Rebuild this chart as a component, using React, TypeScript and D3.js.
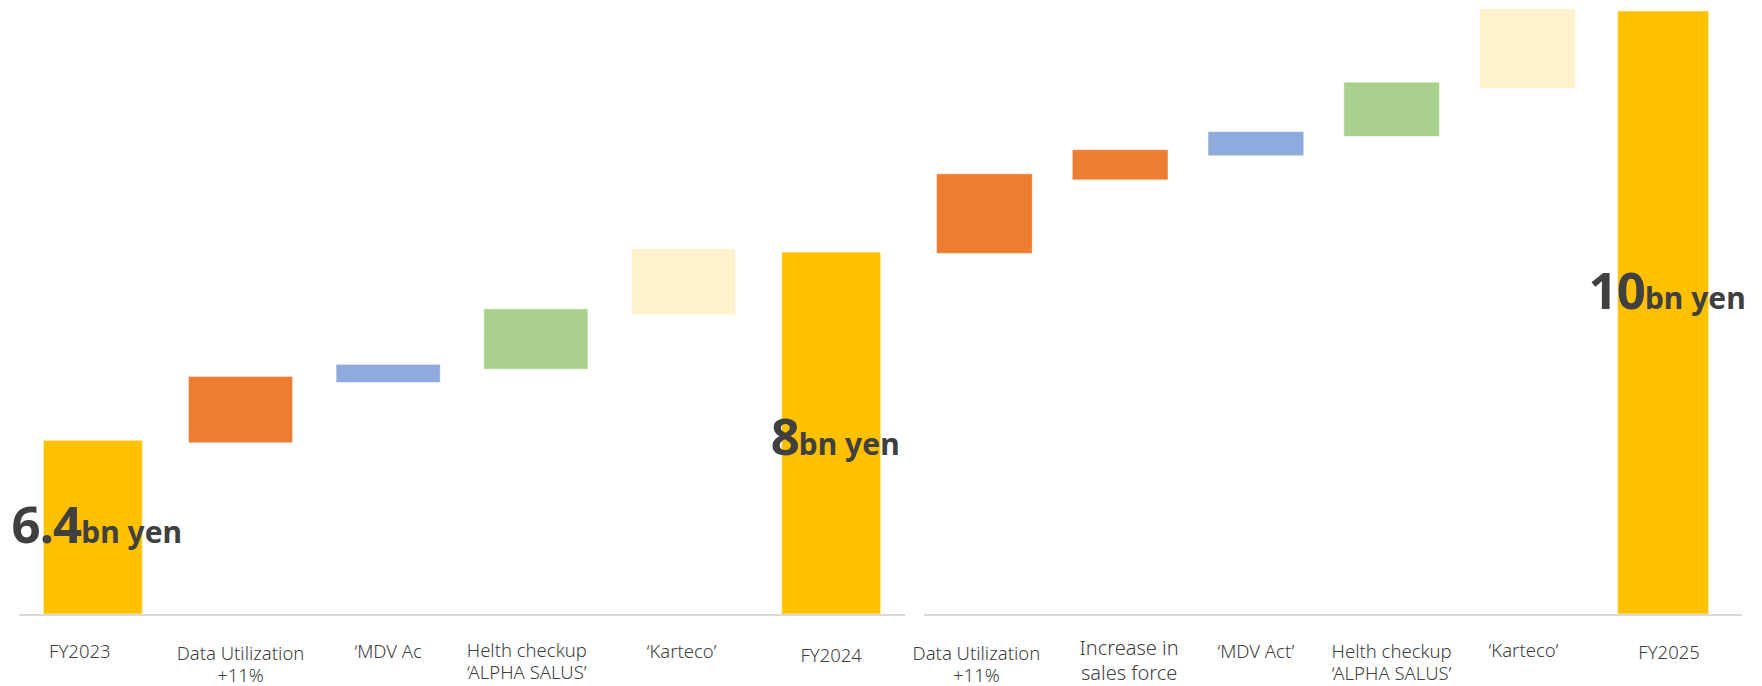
import React from "react";
import * as d3 from "d3";

// ---------- data ----------
const leftCategories = [
  "FY2023",
  "Data Utilization\n+11%",
  "\u2018MDV Ac",
  "Helth checkup\n\u2018ALPHA SALUS\u2019",
  "\u2018Karteco\u2019",
  "FY2024",
];
const leftKinds = ["total", "util", "mdv", "health", "karteco", "total"];
const leftStart = [5, 6.42, 6.92, 7.03, 7.48, 5];
const leftEnd = [6.44, 6.97, 7.07, 7.53, 8.03, 8.0];

const rightCategories = [
  "Data Utilization\n+11%",
  "Increase in\nsales force",
  "\u2018MDV Act\u2019",
  "Helth checkup\n\u2018ALPHA SALUS\u2019",
  "\u2018Karteco\u2019",
  "FY2025",
];
const rightKinds = ["util", "sales", "mdv", "health", "karteco", "total"];
const rightStart = [7.99, 8.6, 8.8, 8.96, 9.36, 5];
const rightEnd = [8.65, 8.85, 9.0, 9.41, 10.02, 10.0];

const totalNumbers = ["6.4", "8", "10"];
const totalUnit = "bn yen";

const yDomain = [5, 10];

// ---------- styles / layout ----------
const W = 1762;
const H = 686;
const colors: Record<string, string> = {
  total: "#FFC000",
  util: "#ED7D31",
  sales: "#ED7D31",
  mdv: "#8FAADC",
  health: "#A9D18E",
  karteco: "#FFF2CC",
};
const leftLabelDx = [-13, 0, 0, -9, -2, 0];
const rightLabelDx = [-8, 9, 0, 0, -4, 6];
const leftLabelBase = [658, 660, 658, 657, 658, 662];
const rightLabelBase = [660, 655, 658, 658, 657, 659];
const totalLabelFrac = [0.59, 0.56, 0.495];

export default function App() {
  const y = d3.scaleLinear().domain(yDomain).range([614, 11]);
  const xL = d3.scaleBand<number>().domain(d3.range(leftCategories.length)).range([19, 905]);
  const xR = d3.scaleBand<number>().domain(d3.range(rightCategories.length)).range([916.5, 1731]);

  const panels = [
    { x: xL, cats: leftCategories, kinds: leftKinds, s: leftStart, e: leftEnd, dx: leftLabelDx, base: leftLabelBase, axis: [19, 905] },
    { x: xR, cats: rightCategories, kinds: rightKinds, s: rightStart, e: rightEnd, dx: rightLabelDx, base: rightLabelBase, axis: [924, 1742] },
  ];

  const totals: { cx: number; top: number; bottom: number }[] = [];

  const marks = panels.map((p, pi) => {
    const step = p.x.bandwidth();
    const bars = p.cats.map((c, i) => {
      const isTotal = p.kinds[i] === "total";
      const w = step * (isTotal ? 0.67 : 0.705);
      const cx = (p.x(i) as number) + step / 2;
      const y0 = y(p.s[i]);
      const y1 = y(p.e[i]);
      if (isTotal) totals.push({ cx, top: y1, bottom: y0 });
      return (
        <rect
          key={`b${pi}-${i}`}
          x={cx - w / 2}
          y={Math.min(y0, y1)}
          width={w}
          height={Math.abs(y0 - y1)}
          fill={colors[p.kinds[i]]}
          stroke="#ffffff"
          strokeOpacity={0.45}
          strokeWidth={1}
        />
      );
    });
    const labels = p.cats.map((c, i) => {
      const cx = (p.x(i) as number) + step / 2 + p.dx[i];
      const lines = c.split("\n");
      const big = p.kinds[i] === "sales";
      const fs = big ? 20 : 18.5;
      return (
        <text
          key={`l${pi}-${i}`}
          x={cx}
          y={p.base[i]}
          textAnchor="middle"
          fontFamily="'Noto Sans', sans-serif"
          fontWeight={300}
          fontSize={fs}
          fill="#404040"
        >
          {lines.map((ln, k) => (
            <tspan key={k} x={cx} dy={k === 0 ? 0 : big ? 24.5 : 22}>
              {ln}
            </tspan>
          ))}
        </text>
      );
    });
    const axis = (
      <line
        key={`a${pi}`}
        x1={p.axis[0]}
        x2={p.axis[1]}
        y1={615}
        y2={615}
        stroke="#D9D9D9"
        strokeWidth={2}
      />
    );
    return (
      <g key={pi}>
        {bars}
        {axis}
        {labels}
      </g>
    );
  });

  const totalLabels = totals.map((t, i) => (
    <text
      key={`t${i}`}
      x={t.cx + 4}
      y={t.top + (t.bottom - t.top) * totalLabelFrac[i]}
      textAnchor="middle"
      fontFamily="'Noto Sans', sans-serif"
      fontWeight={700}
      fill="#404040"
    >
      <tspan fontSize={51} letterSpacing={-1}>{totalNumbers[i]}</tspan>
      <tspan fontSize={30}>{totalUnit}</tspan>
    </text>
  ));

  return (
    <svg
      width={W}
      height={H}
      style={{ position: "absolute", left: 0, top: 0, background: "#fff" }}
    >
      <rect width={W} height={H} fill="#ffffff" />
      {marks}
      {totalLabels}
    </svg>
  );
}
